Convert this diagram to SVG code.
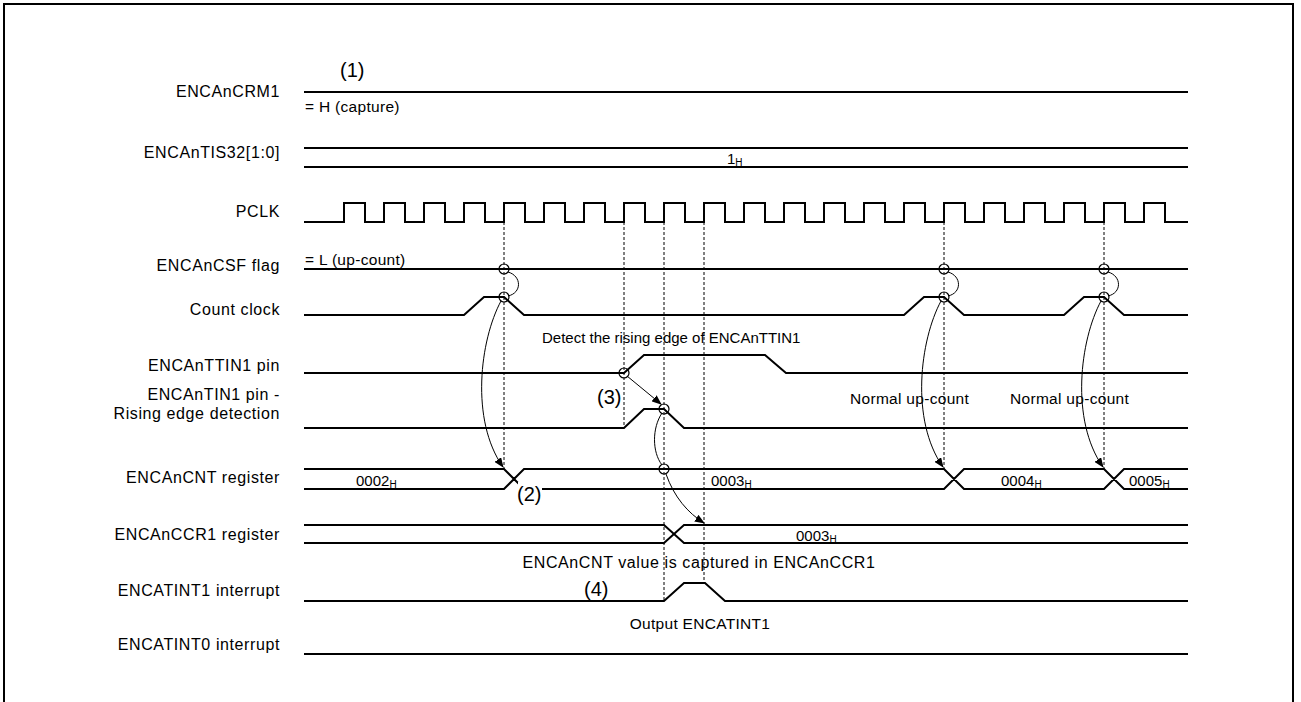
<svg xmlns="http://www.w3.org/2000/svg" width="1301" height="702" viewBox="0 0 1301 702">
<defs>
<marker id="ah" markerUnits="userSpaceOnUse" markerWidth="10" markerHeight="8" refX="9" refY="4" orient="auto">
<path d="M0,0 L10,4 L0,8 z" fill="#000"/>
</marker>
<style>
.lbl{font-family:"Liberation Sans",Arial,sans-serif;font-size:16px;letter-spacing:0.6px;fill:#000;text-anchor:end}
.ann{font-family:"Liberation Sans",Arial,sans-serif;font-size:15px;fill:#000}
.wide{font-size:15.5px;letter-spacing:0.3px}
.cap{font-size:16px;letter-spacing:0.6px}
.num{font-family:"Liberation Sans",Arial,sans-serif;font-size:20px;fill:#000}
.sub{font-size:10px;letter-spacing:0}
.sig{fill:none;stroke:#000;stroke-width:2;stroke-linejoin:miter}
.dash{fill:none;stroke:#000;stroke-width:1;stroke-dasharray:3,2}
.cur{fill:none;stroke:#000;stroke-width:1}
.circ{fill:none;stroke:#000;stroke-width:1.2}
</style>
</defs>
<rect x="4" y="4" width="1289" height="720" fill="#fff" stroke="#000" stroke-width="2"/>

<g id="labels">
<text class="lbl" x="280" y="97">ENCAnCRM1</text>
<text class="lbl" x="280" y="158">ENCAnTIS32[1:0]</text>
<text class="lbl" x="280" y="217">PCLK</text>
<text class="lbl" x="280" y="271">ENCAnCSF flag</text>
<text class="lbl" x="280" y="315">Count clock</text>
<text class="lbl" x="280" y="371">ENCAnTTIN1 pin</text>
<text class="lbl" x="280" y="400">ENCAnTIN1 pin -</text>
<text class="lbl" x="280" y="419">Rising edge detection</text>
<text class="lbl" x="280" y="483">ENCAnCNT register</text>
<text class="lbl" x="280" y="540">ENCAnCCR1 register</text>
<text class="lbl" x="280" y="596">ENCATINT1 interrupt</text>
<text class="lbl" x="280" y="650">ENCATINT0 interrupt</text>
</g>

<g id="guides">
<path class="dash" d="M504,222 V469 M624,222 V428 M664,222 V601 M704,222 V583 M944,222 V469 M1104,222 V469"/>
</g>

<g id="sig-crm1">
<path class="sig" d="M304,92 H1188"/>
<text class="ann wide" x="305" y="112">= H (capture)</text>
</g>
<g id="sig-tis32">
<path class="sig" d="M304,148 H1188 M304,167 H1188"/>
<text class="ann" x="727" y="164">1<tspan class="sub" dy="2">H</tspan></text>
</g>
<g id="sig-pclk">
<path class="sig" d="M304,222 H344 V203 H365 V222 H384 V203 H405 V222 H424 V203 H445 V222 H464 V203 H485 V222 H504 V203 H525 V222 H544 V203 H565 V222 H584 V203 H605 V222 H624 V203 H645 V222 H664 V203 H685 V222 H704 V203 H725 V222 H744 V203 H765 V222 H784 V203 H805 V222 H824 V203 H845 V222 H864 V203 H885 V222 H904 V203 H925 V222 H944 V203 H965 V222 H984 V203 H1005 V222 H1024 V203 H1045 V222 H1064 V203 H1085 V222 H1104 V203 H1125 V222 H1144 V203 H1165 V222 H1188"/>
</g>
<g id="sig-csf">
<path class="sig" d="M304,269 H1188"/>
<text class="ann wide" x="305" y="265">= L (up-count)</text>
</g>
<g id="sig-countclk">
<path class="sig" d="M304,315 H464 L484,297 H504 L524,315 H904 L924,297 H944 L964,315 H1064 L1084,297 H1104 L1124,315 H1188"/>
</g>
<g id="sig-ttin1">
<path class="sig" d="M304,373 H624 L644,355 H765 L786,373 H1188"/>
<text class="ann" x="542" y="343">Detect the rising edge of ENCAnTTIN1</text>
</g>
<g id="sig-tin1">
<path class="sig" d="M304,428 H624 L644,409 H664 L684,428 H1188"/>
</g>
<g id="sig-cnt">
<path class="sig" d="M304,469 H504 L524,489 H944 L964,469 H1104 L1124,489 H1188 M304,489 H504 L524,469 H944 L964,489 H1104 L1124,469 H1188"/>
<rect x="518" y="482" width="24" height="24" fill="#fff"/>
<text class="ann" x="356" y="486">0002<tspan class="sub" dy="2">H</tspan></text>
<text class="ann" x="711" y="486">0003<tspan class="sub" dy="2">H</tspan></text>
<text class="ann" x="1001" y="486">0004<tspan class="sub" dy="2">H</tspan></text>
<text class="ann" x="1129" y="486">0005<tspan class="sub" dy="2">H</tspan></text>
</g>
<g id="sig-ccr1">
<path class="sig" d="M304,525 H664 L684,543 H1188 M304,543 H664 L684,525 H1188"/>
<text class="ann" x="796" y="541">0003<tspan class="sub" dy="2">H</tspan></text>
<text class="ann cap" x="699" y="568" text-anchor="middle">ENCAnCNT value is captured in ENCAnCCR1</text>
</g>
<g id="sig-int1">
<path class="sig" d="M304,601 H664 L684,583 H705 L725,601 H1188"/>
<text class="ann wide" x="700" y="629" text-anchor="middle">Output ENCATINT1</text>
</g>
<g id="sig-int0">
<path class="sig" d="M304,654 H1188"/>
</g>

<g id="markers">
<text class="num" x="340" y="77">(1)</text>
<text class="num" x="517" y="501">(2)</text>
<text class="num" x="597" y="404">(3)</text>
<text class="num" x="584" y="596">(4)</text>
<text class="ann wide" x="850" y="404">Normal up-count</text>
<text class="ann wide" x="1010" y="404">Normal up-count</text>
</g>

<g id="connectors">
<circle class="circ" cx="504" cy="269" r="5"/>
<circle class="circ" cx="944" cy="269" r="5"/>
<circle class="circ" cx="1104" cy="269" r="5"/>
<circle class="circ" cx="504" cy="297" r="5"/>
<circle class="circ" cx="944" cy="297" r="5"/>
<circle class="circ" cx="1104" cy="297" r="5"/>
<circle class="circ" cx="624" cy="373" r="5"/>
<circle class="circ" cx="664" cy="409" r="5"/>
<circle class="circ" cx="664" cy="469" r="5"/>
<path class="cur" d="M508,272 C522,276 522,293 508,296"/>
<path class="cur" d="M948,272 C962,276 962,293 948,296"/>
<path class="cur" d="M1108,272 C1122,276 1122,293 1108,296"/>
<path class="cur" marker-end="url(#ah)" d="M501,301 C480,340 470,420 503,467"/>
<path class="cur" marker-end="url(#ah)" d="M941,301 C920,340 910,420 943,467"/>
<path class="cur" marker-end="url(#ah)" d="M1101,301 C1080,340 1070,420 1103,467"/>
<path class="cur" marker-end="url(#ah)" d="M627,376 L661,404"/>
<path class="cur" d="M662,413 C652,428 652,452 662,465"/>
<path class="cur" marker-end="url(#ah)" d="M666,474 C674,497 688,513 704,523"/>
</g>
</svg>
